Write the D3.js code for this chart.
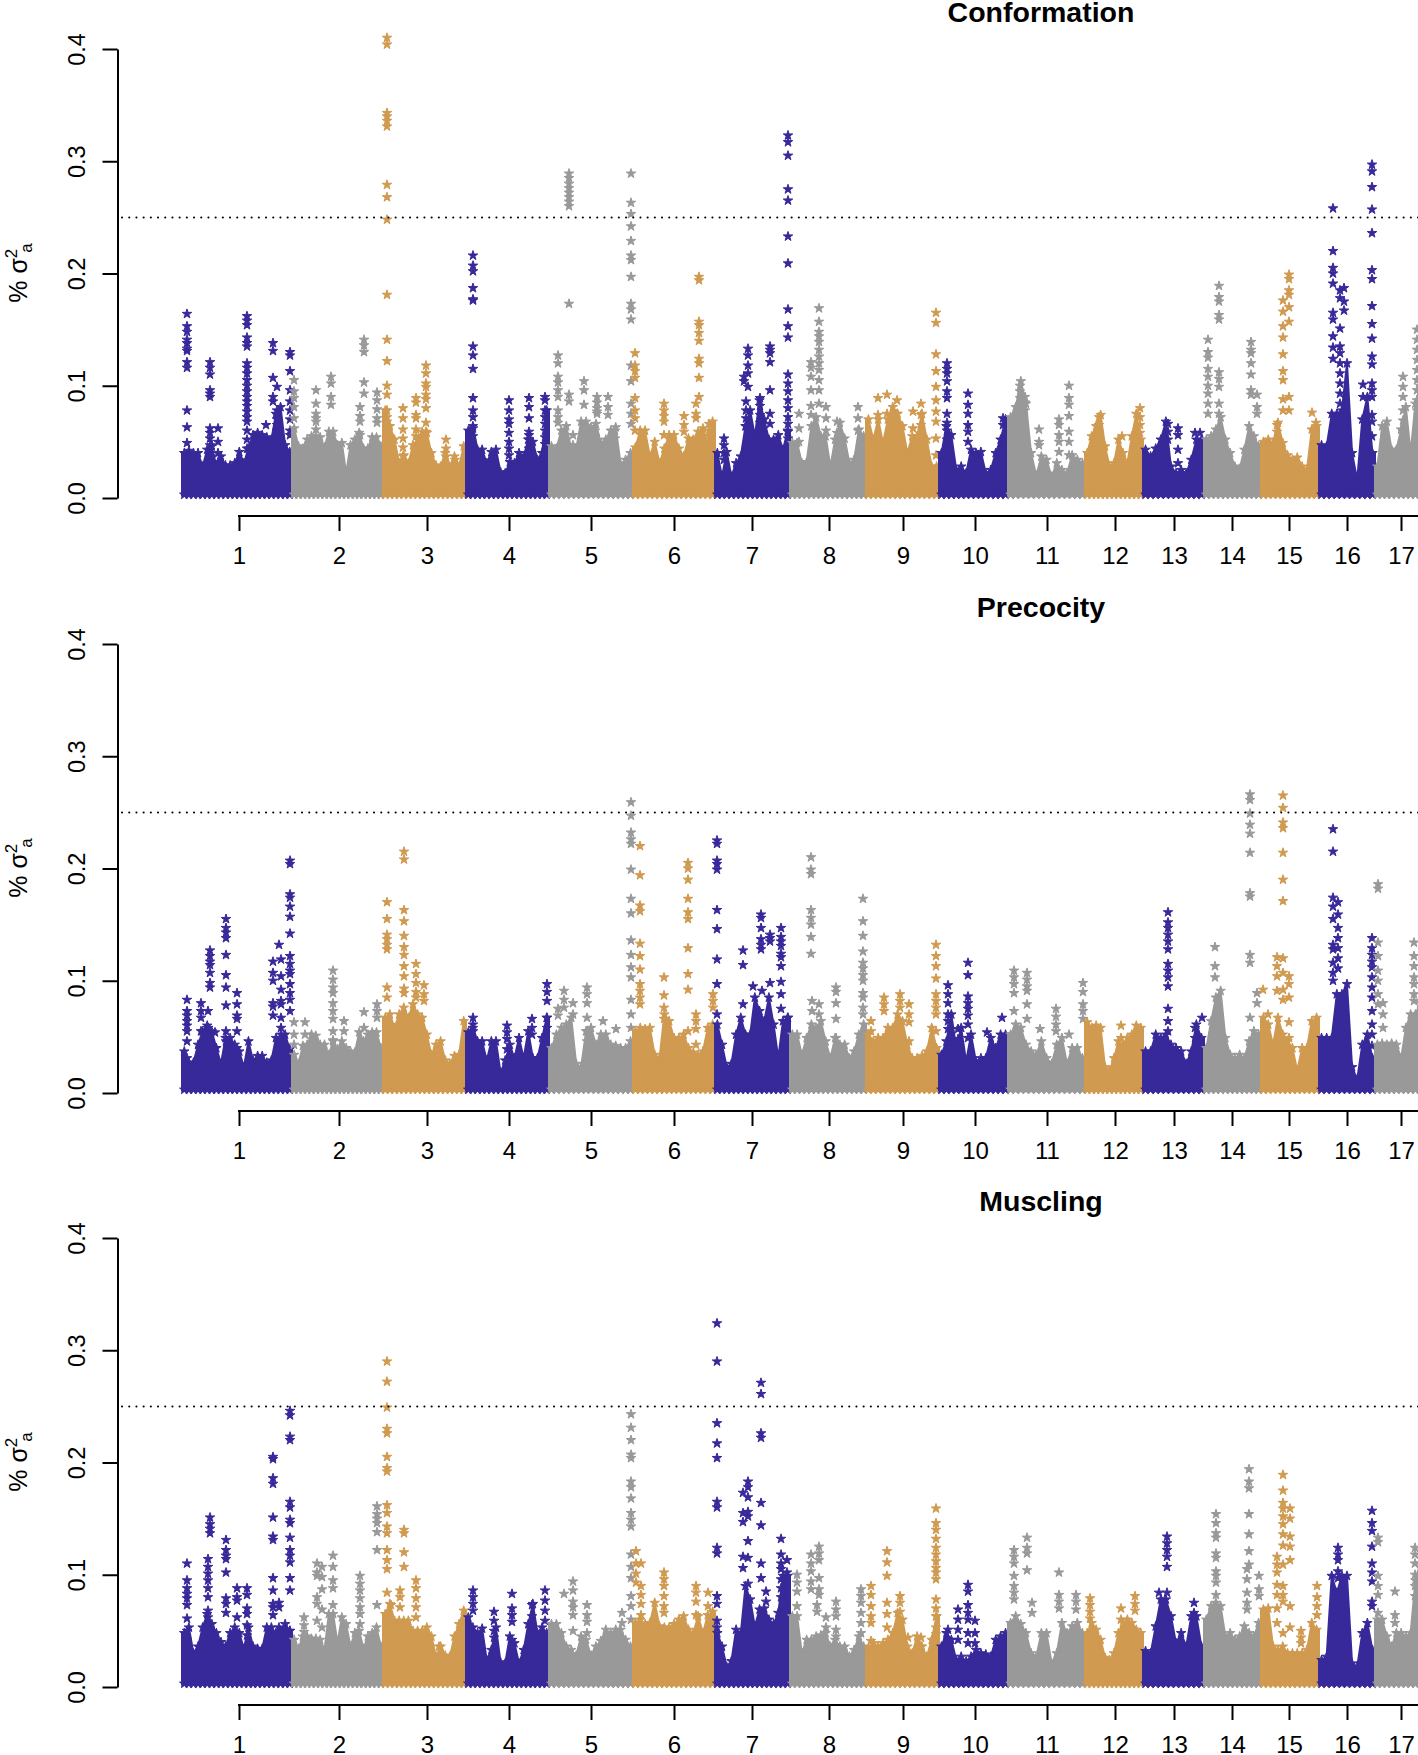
<!DOCTYPE html>
<html>
<head>
<meta charset="utf-8">
<script src="https://cdn.jsdelivr.net/npm/d3@7"></script>
<style>
  html, body { margin: 0; padding: 0; background: #fff; overflow: hidden; }
  text { font-family: "Liberation Sans", sans-serif; fill: #000; }
</style>
</head>
<body>
<div id="chart"></div>
<script>
// chromosome layout, positions in genome units
var chromStarts = [0, 110, 201, 284, 367, 451, 533, 608, 684, 757, 826, 903, 961, 1022, 1079, 1137, 1193, 1250];
var chromTicks = [57, 157, 245, 327, 409, 492, 570, 647, 721, 793, 865, 933, 992, 1050, 1107, 1165, 1219];
var chromLabels = ["1", "2", "3", "4", "5", "6", "7", "8", "9", "10", "11", "12", "13", "14", "15", "16", "17"];
var chromColors = ["#38299a", "#999999", "#d09a50"];
var yTicks = [0, 0.1, 0.2, 0.3, 0.4];
var threshold = 0.25;

// dense part of each chromosome: upper edge of the cloud, one list per chromosome
var conformationMass = [
  [.04,.042,.04,.04,.028,.043,.046,.028,.037,.029,.029,.031,.041,.031,.044,.056,.058,.056,.054,.052,.075,.081,.047,.041],
  [.062,.046,.044,.052,.055,.055,.054,.045,.059,.059,.047,.049,.022,.047,.052,.058,.044,.044,.054,.054,.046],
  [.078,.064,.052,.031,.038,.031,.047,.052,.059,.058,.04,.029,.028,.04,.028,.037,.028,.046],
  [.06,.064,.043,.043,.031,.041,.043,.023,.022,.032,.031,.04,.037,.052,.05,.034,.04,.078],
  [.046,.044,.06,.064,.044,.044,.068,.068,.063,.066,.049,.052,.06,.063,.03,.034,.04],
  [.045,.06,.06,.037,.05,.031,.044,.056,.056,.044,.037,.053,.052,.059,.062,.047,.068],
  [.04,.019,.041,.019,.031,.037,.064,.078,.055,.087,.07,.052,.052,.056,.043,.06],
  [.049,.049,.031,.032,.064,.072,.055,.055,.028,.052,.067,.053,.031,.034,.061,.055],
  [.07,.052,.07,.049,.07,.081,.075,.064,.04,.055,.055,.075,.052,.028,.028],
  [.04,.064,.056,.025,.028,.022,.043,.04,.041,.022,.025,.04,.052,.07],
  [.072,.081,.104,.084,.04,.02,.037,.034,.019,.031,.025,.022,.038,.034,.031],
  [.04,.055,.064,.074,.046,.028,.031,.052,.04,.031,.055,.075,.052],
  [.043,.037,.044,.052,.068,.028,.022,.025,.022,.034,.052,.052],
  [.052,.055,.061,.072,.052,.04,.028,.026,.043,.064,.055,.046],
  [.05,.052,.049,.067,.049,.038,.034,.036,.028,.025,.061,.064],
  [.047,.046,.075,.075,.078,.12,.04,.016,.07,.09,.04],
  [.028,.064,.068,.043,.043,.061,.081,.04,.084,.1,.1,.1]
];
var precocityMass = [
  [.037,.027,.027,.043,.055,.06,.055,.04,.026,.049,.049,.043,.037,.023,.046,.029,.033,.033,.027,.029,.049,.049,.052,.039],
  [.034,.026,.042,.043,.052,.051,.043,.043,.034,.046,.039,.046,.04,.037,.036,.054,.046,.052,.054,.054,.04],
  [.067,.07,.058,.07,.076,.067,.079,.07,.067,.052,.034,.043,.046,.029,.026,.033,.034,.064],
  [.054,.058,.046,.046,.029,.046,.046,.018,.029,.043,.031,.049,.031,.055,.031,.031,.049,.067],
  [.04,.052,.058,.061,.067,.026,.023,.055,.058,.043,.052,.052,.043,.042,.04,.04,.046],
  [.055,.058,.057,.058,.034,.031,.07,.064,.049,.049,.052,.04,.036,.034,.037,.058,.061],
  [.061,.043,.023,.026,.052,.067,.052,.052,.085,.073,.064,.085,.061,.031,.064,.067],
  [.052,.052,.034,.049,.061,.058,.064,.046,.031,.049,.043,.043,.031,.037,.052,.061],
  [.052,.046,.049,.049,.058,.058,.07,.064,.043,.031,.031,.033,.037,.058,.04],
  [.034,.046,.07,.04,.058,.028,.052,.028,.031,.031,.049,.04,.052,.052],
  [.052,.061,.058,.043,.037,.034,.046,.031,.026,.043,.049,.026,.04,.04,.031],
  [.063,.058,.06,.058,.023,.02,.031,.046,.043,.049,.052,.06,.058],
  [.037,.037,.052,.049,.052,.043,.04,.037,.026,.037,.061,.049],
  [.04,.064,.085,.091,.049,.034,.031,.034,.031,.046,.055,.052],
  [.067,.061,.043,.067,.052,.046,.04,.02,.04,.04,.064,.067],
  [.049,.049,.049,.088,.088,.097,.023,.012,.043,.052,.031],
  [.043,.044,.043,.044,.043,.031,.058,.07,.07,.08,.08,.08]
];
var musclingMass = [
  [.048,.053,.03,.036,.053,.065,.056,.048,.04,.036,.048,.053,.048,.034,.053,.036,.034,.034,.053,.053,.048,.05,.056,.05],
  [.042,.034,.045,.045,.043,.043,.042,.033,.065,.065,.039,.062,.056,.036,.048,.05,.034,.045,.048,.053,.036],
  [.065,.074,.059,.059,.059,.059,.05,.05,.05,.053,.045,.027,.036,.028,.027,.045,.056,.068],
  [.062,.053,.048,.052,.024,.033,.053,.022,.021,.045,.039,.021,.033,.056,.074,.048,.053,.048],
  [.056,.056,.048,.036,.033,.028,.045,.042,.028,.036,.041,.051,.048,.051,.051,.042,.036],
  [.057,.06,.056,.057,.075,.054,.053,.053,.056,.06,.063,.051,.048,.063,.048,.064,.067],
  [.048,.036,.018,.023,.051,.048,.09,.078,.054,.069,.07,.06,.056,.066,.099,.099],
  [.063,.063,.03,.042,.042,.045,.046,.048,.036,.042,.036,.036,.027,.033,.045,.036],
  [.035,.039,.036,.039,.042,.048,.066,.06,.036,.03,.045,.036,.027,.042,.063],
  [.036,.048,.042,.024,.027,.023,.027,.033,.03,.029,.027,.042,.045,.048],
  [.057,.063,.056,.048,.03,.027,.048,.048,.021,.03,.057,.048,.054,.057,.048],
  [.048,.057,.051,.042,.026,.024,.03,.048,.057,.06,.057,.051,.048],
  [.032,.03,.054,.078,.078,.063,.039,.048,.036,.063,.063,.036],
  [.06,.072,.075,.072,.045,.048,.042,.045,.054,.048,.045,.057],
  [.069,.07,.036,.033,.036,.03,.03,.03,.03,.033,.057,.051],
  [.024,.027,.099,.084,.099,.099,.021,.018,.048,.057,.033],
  [.06,.06,.045,.036,.048,.048,.045,.048,.095,.11,.11,.11]
];

// columns of separate stars above the cloud: [position, [values]]
var conformationPeaks = [
  [5,[.164,.153,.148,.141,.138,.133,.131,.121,.116,.078,.063,.049]],
  [28,[.121,.116,.11,.096,.093,.09,.062,.058,.053,.047,.043,.037]],
  [36,[.062,.05,.04,.032]],
  [65,[.162,.158,.154,.143,.138,.135,.12,.116,.111,.105,.1,.095,.09,.086,.082,.077,.072,.068,.06,.052,.044]],
  [84,[.065]],
  [91,[.138,.131,.107,.09,.086]],
  [95,[.099,.078,.074,.07,.065,.06]],
  [108,[.13,.127,.113,.096,.086,.078,.07,.06,.056]],
  [112,[.105,.095,.089,.081,.071]],
  [134,[.096,.084,.075,.071,.068,.061]],
  [149,[.108,.102,.09,.083]],
  [178,[.081,.073,.068,.056]],
  [182,[.141,.136,.13,.103,.093]],
  [195,[.094,.087,.079,.071,.067]],
  [205,[.41,.404,.343,.34,.336,.331,.279,.268,.248,.181,.141,.122,.1,.092,.078,.072,.068,.063,.058]],
  [221,[.08,.071,.061,.053,.045,.037]],
  [234,[.089,.085,.074,.071,.061,.055]],
  [244,[.118,.111,.102,.099,.092,.088,.08,.067,.059]],
  [264,[.052,.044,.037]],
  [273,[.034]],
  [291,[.216,.207,.202,.187,.177,.176,.135,.127,.115,.089,.078,.072,.062,.055]],
  [327,[.087,.078,.07,.066,.058,.05,.044,.038]],
  [347,[.089,.081,.071,.059,.056,.052,.044]],
  [363,[.09,.087,.078,.072,.066,.06,.054,.048]],
  [376,[.127,.12,.108,.103,.096,.09,.078,.072,.067]],
  [387,[.289,.285,.28,.276,.272,.268,.264,.26,.173,.092,.086]],
  [391,[.056,.047]],
  [402,[.104,.096,.083]],
  [415,[.09,.085,.08,.077,.075]],
  [413,[.06,.055]],
  [426,[.09,.081,.074]],
  [433,[.06,.053]],
  [449,[.289,.263,.253,.242,.229,.216,.212,.197,.173,.168,.159,.118,.104,.084,.075,.066]],
  [453,[.129,.118,.113,.107,.089,.078,.071,.06]],
  [482,[.084,.078,.073,.068,.056]],
  [502,[.073,.065,.059]],
  [517,[.197,.194,.157,.154,.147,.14,.124,.12,.107,.09]],
  [514,[.084,.075,.071]],
  [527,[.066,.06,.055]],
  [542,[.053,.047,.04,.034]],
  [562,[.108,.104]],
  [564,[.086,.078,.071,.064]],
  [566,[.133,.127,.118,.111,.099]],
  [578,[.089,.082,.074,.067,.059]],
  [588,[.135,.132,.129,.121,.096,.075,.066]],
  [606,[.323,.317,.305,.275,.265,.233,.209,.168,.153,.143,.11,.102,.095,.087,.08,.072,.066,.059,.053]],
  [617,[.075,.062,.05]],
  [629,[.121,.116,.108,.096,.082,.074]],
  [637,[.169,.157,.148,.144,.139,.132,.126,.12,.114,.105,.096,.084]],
  [644,[.081,.071,.06]],
  [655,[.068,.058]],
  [676,[.081,.071,.06]],
  [696,[.089,.074]],
  [705,[.092,.075]],
  [715,[.087,.075]],
  [731,[.077,.062]],
  [739,[.084,.074,.065,.056]],
  [754,[.165,.156,.128,.113,.099,.087,.077,.068,.053,.038]],
  [765,[.12,.115,.111,.104,.095,.089,.075,.067,.06,.052,.045]],
  [786,[.093,.083,.075,.065,.059,.05]],
  [821,[.071,.065]],
  [838,[.1,.095,.089,.083,.077]],
  [843,[.09,.085,.078]],
  [857,[.061,.05,.047]],
  [877,[.07,.065,.056,.05,.041]],
  [887,[.1,.089,.083,.073,.059,.05,.038]],
  [917,[.072,.065,.058]],
  [940,[.055]],
  [958,[.08,.072,.065,.058]],
  [986,[.066,.059,.052]],
  [996,[.062,.056,.043,.031]],
  [1013,[.058]],
  [1018,[.058]],
  [1026,[.141,.13,.125,.115,.108,.1,.093,.084,.075]],
  [1037,[.189,.179,.175,.163,.159,.112,.106,.099,.084,.075]],
  [1069,[.139,.132,.129,.12,.11,.096,.092]],
  [1075,[.092,.081,.075]],
  [1095,[.065,.059,.052]],
  [1101,[.176,.166,.153,.143,.128,.113,.105,.088,.078]],
  [1107,[.199,.195,.185,.181,.17,.157,.09,.078]],
  [1130,[.076]],
  [1134,[.067]],
  [1151,[.258,.22,.205,.2,.191,.165,.159,.144,.134,.124]],
  [1158,[.185,.178,.151,.135,.129,.12,.111,.102,.093,.084]],
  [1162,[.187,.175,.167]],
  [1181,[.101,.09]],
  [1190,[.297,.291,.277,.257,.236,.203,.195,.171,.155,.142,.126,.119,.102,.096,.09,.074,.068,.055,.04]],
  [1221,[.108,.099,.09,.078,.069,.059]],
  [1235,[.15,.141,.132,.123,.114,.105,.096,.087,.078]]
];
var precocityPeaks = [
  [5,[.083,.073,.069,.064,.06,.055,.046,.031]],
  [19,[.08,.073,.067,.055]],
  [26,[.073,.058]],
  [28,[.127,.122,.117,.114,.107,.098,.094]],
  [33,[.054,.04,.027]],
  [44,[.155,.147,.143,.138,.123,.105,.094,.078,.055,.046]],
  [55,[.089,.079,.069,.066,.055,.04]],
  [91,[.117,.107,.1,.08,.077,.069]],
  [97,[.132]],
  [99,[.119,.104,.092,.082,.079,.067,.058,.052]],
  [108,[.207,.204,.177,.174,.166,.157,.142,.122,.115,.109,.106,.097,.089,.083,.073]],
  [112,[.063,.052,.043]],
  [123,[.063,.052]],
  [151,[.109,.101,.094,.089,.08,.073,.066,.055,.047]],
  [162,[.064,.055]],
  [182,[.072,.058]],
  [195,[.079,.073,.067]],
  [205,[.17,.155,.141,.137,.132,.128,.094,.085]],
  [222,[.215,.208,.163,.153,.14,.13,.123,.113,.104,.093,.089]],
  [234,[.115,.106,.098,.09,.085]],
  [242,[.096,.088,.082]],
  [291,[.067,.061,.055]],
  [325,[.06,.054,.048,.039]],
  [350,[.066,.058,.052]],
  [365,[.097,.09,.082,.067,.058]],
  [376,[.075,.069]],
  [382,[.091,.083,.076]],
  [391,[.08,.07]],
  [405,[.094,.088,.08,.067,.055,.046]],
  [421,[.064]],
  [434,[.057]],
  [449,[.259,.247,.232,.226,.222,.199,.173,.16,.136,.123,.112,.103,.083,.07,.058]],
  [458,[.22,.194,.167,.162,.133,.122,.11,.097,.091,.085,.079]],
  [482,[.103,.087,.076,.066]],
  [506,[.205,.2,.19,.173,.161,.155,.129,.106,.092,.055]],
  [514,[.07,.064,.057,.043]],
  [531,[.088,.082,.076]],
  [535,[.225,.222,.207,.204,.199,.163,.146,.119,.097,.07]],
  [561,[.127,.114,.079]],
  [571,[.095]],
  [579,[.159,.156,.147,.137,.132,.128]],
  [580,[.091]],
  [588,[.141,.138,.135,.098]],
  [599,[.147,.139,.135,.131,.124,.121,.113,.099,.088,.075]],
  [606,[.067]],
  [629,[.21,.199,.195,.163,.156,.15,.139,.124]],
  [630,[.082,.073]],
  [637,[.079,.07]],
  [654,[.094,.09,.08,.066,.049]],
  [681,[.173,.153,.14,.126,.116,.111,.105,.1,.089,.085,.076,.07]],
  [689,[.064,.055]],
  [702,[.085,.079,.073]],
  [718,[.088,.082,.076]],
  [727,[.079,.07,.063,.046]],
  [754,[.132,.122,.113,.102,.088,.082,.076,.07,.055]],
  [766,[.096,.088,.08,.07,.064,.057]],
  [776,[.057,.048]],
  [786,[.116,.105,.086,.08,.075,.069,.061,.049]],
  [805,[.054]],
  [820,[.067]],
  [832,[.109,.103,.097,.089,.073]],
  [845,[.107,.101,.095,.091,.079,.066]],
  [858,[.057]],
  [874,[.075,.068,.061,.055]],
  [887,[.052]],
  [901,[.098,.09,.079,.073,.066]],
  [939,[.06,.049]],
  [986,[.161,.152,.147,.141,.135,.128,.115,.109,.103,.095,.075,.064,.055]],
  [1013,[.058,.049]],
  [1020,[.067]],
  [1033,[.13,.113,.103]],
  [1068,[.266,.261,.249,.239,.231,.214,.178,.175,.123,.116,.067]],
  [1075,[.089,.08]],
  [1081,[.092]],
  [1086,[.07]],
  [1095,[.121,.113,.104,.091]],
  [1101,[.265,.254,.241,.236,.214,.19,.171,.12,.107,.092,.083]],
  [1107,[.104,.097,.085,.063,.049]],
  [1151,[.235,.215,.174,.166,.155,.132,.128,.116,.107,.1]],
  [1156,[.17,.159,.147,.138,.129,.12,.111]],
  [1190,[.138,.129,.123,.117,.112,.103,.094,.085,.073,.061,.052,.042]],
  [1196,[.186,.182,.134,.122,.109,.1,.088,.079]],
  [1201,[.08,.07,.058]],
  [1232,[.134,.122,.113,.103,.097,.088,.082]]
];
var musclingPeaks = [
  [5,[.11,.095,.088,.083,.079,.073,.061,.05,.042]],
  [26,[.114,.107,.101,.095,.088,.08,.068,.062,.055]],
  [28,[.151,.145,.141,.137]],
  [44,[.131,.122,.117,.114,.102,.079,.074,.066]],
  [55,[.088,.08,.077,.062,.048]],
  [65,[.088,.082,.07,.065,.055,.046]],
  [91,[.205,.203,.186,.181,.151,.134,.131,.097,.086,.074,.071,.064]],
  [97,[.075,.071,.053]],
  [108,[.246,.242,.223,.22,.165,.16,.149,.146,.133,.122,.117,.111,.097,.086,.05]],
  [122,[.062,.055,.049]],
  [135,[.11,.102,.099,.08,.074,.059]],
  [140,[.107,.098,.087,.069,.053]],
  [151,[.117,.107,.095,.088,.073]],
  [178,[.099,.092,.086,.079,.071,.065,.056]],
  [195,[.161,.154,.15,.146,.138,.122,.073]],
  [205,[.29,.272,.249,.23,.226,.205,.195,.192,.162,.155,.143,.137,.122,.113,.105,.084]],
  [209,[.073]],
  [218,[.086,.08,.071]],
  [222,[.14,.137,.12,.107]],
  [234,[.095,.088,.079,.071,.062]],
  [257,[.036]],
  [291,[.086,.08,.074,.068]],
  [312,[.067,.059,.05,.044]],
  [330,[.083,.07,.064,.058,.042]],
  [350,[.073,.063,.054]],
  [363,[.086,.077,.068,.059]],
  [382,[.083]],
  [391,[.094,.086,.076,.071,.064,.05]],
  [405,[.073,.064,.058,.048]],
  [440,[.066,.057]],
  [449,[.243,.231,.22,.207,.204,.183,.178,.168,.155,.149,.143,.118,.107,.097,.081,.072,.06]],
  [454,[.121,.11,.101,.093]],
  [459,[.11,.09,.082,.074,.064]],
  [482,[.102,.096,.09,.081,.072,.066]],
  [514,[.09,.084,.076,.064]],
  [526,[.084,.072]],
  [535,[.324,.29,.235,.217,.204,.165,.16,.124,.119,.081,.074,.059,.053]],
  [561,[.173,.155,.147,.116,.106]],
  [566,[.183,.178,.169,.156,.152,.13,.115,.092]],
  [579,[.271,.261,.226,.222,.164,.144,.11,.097]],
  [584,[.085,.076]],
  [599,[.132,.118,.11,.105,.096,.088,.08]],
  [605,[.113,.102]],
  [615,[.1,.093,.085,.072]],
  [629,[.118,.11,.103,.094,.087]],
  [635,[.073,.067]],
  [637,[.125,.119,.113,.097,.087,.082]],
  [644,[.062,.053]],
  [654,[.076,.069,.063,.051,.045]],
  [679,[.087,.081,.075,.066,.057,.048]],
  [689,[.09,.082,.072,.063,.057,.041]],
  [705,[.121,.111,.099,.075,.065,.053]],
  [718,[.081,.075,.067]],
  [726,[.044]],
  [739,[.044,.036]],
  [754,[.159,.146,.14,.132,.124,.118,.112,.106,.102,.096,.078,.07,.063,.053,.047]],
  [766,[.051,.042]],
  [776,[.069,.06,.051,.042]],
  [786,[.091,.085,.073,.066,.06,.048,.039]],
  [793,[.059,.048,.039]],
  [832,[.122,.116,.11,.099,.09,.084,.078]],
  [845,[.133,.124,.119,.104]],
  [850,[.075,.066]],
  [877,[.102,.082,.076,.07]],
  [894,[.082,.076,.069]],
  [908,[.079,.073,.067,.061]],
  [939,[.07,.06]],
  [953,[.081,.074,.068]],
  [977,[.084]],
  [985,[.134,.128,.122,.116,.107,.084]],
  [1012,[.075,.066,.059]],
  [1034,[.154,.146,.137,.133,.119,.115,.103,.099,.093,.082]],
  [1065,[.105,.096,.084,.075,.069]],
  [1067,[.194,.183,.177,.154,.136,.121,.109]],
  [1077,[.099,.087,.081]],
  [1095,[.116,.109,.102,.091,.082,.07,.057]],
  [1101,[.189,.175,.164,.159,.152,.145,.136,.126,.109,.09,.082,.076,.048]],
  [1108,[.159,.15,.134,.125,.113,.072,.053]],
  [1119,[.05,.044,.039]],
  [1135,[.09,.08,.072,.064]],
  [1156,[.124,.118,.113,.103,.097]],
  [1190,[.157,.146,.139,.125,.11,.102,.094,.076,.072]],
  [1196,[.133,.129,.099,.09,.082,.066]],
  [1213,[.085,.064,.057]],
  [1233,[.124,.118,.11,.1,.09,.081]]
];

var panels = [
  {title: "Conformation", zero: 498, mass: conformationMass, peaks: conformationPeaks},
  {title: "Precocity", zero: 1093, mass: precocityMass, peaks: precocityPeaks},
  {title: "Muscling", zero: 1687, mass: musclingMass, peaks: musclingPeaks}
];

var width = 1418, height = 1755;
var plotLeft = 182, panelHeight = 449, starSize = 28;

var svg = d3.select("#chart").append("svg")
  .attr("width", width)
  .attr("height", height)
  .style("display", "block");

var x = d3.scaleLinear().domain([0, 1236]).range([plotLeft, width]);
var star = d3.symbol().type(d3.symbolStar).size(starSize);

function chrom_of(pos) {
  return d3.bisectRight(chromStarts, pos) - 1;
}

function chrom_color(i) {
  return chromColors[i % 3];
}

function mass_points(values, i) {
  var start = chromStarts[i], len = chromStarts[i + 1] - start;
  return values.map(function(v, k) {
    return {pos: start + (k + 0.5) / values.length * len, value: v};
  });
}

function draw_panel(panel) {
  var y = d3.scaleLinear().domain([0, 0.4]).range([panel.zero, panel.zero - panelHeight]);
  var g = svg.append("g");

  var area = d3.area()
    .x(function(d) { return x(d.pos); })
    .y0(y(0.002))
    .y1(function(d) { return y(d.value); });

  var peakPoints = [];
  panel.peaks.forEach(function(p) {
    p[1].forEach(function(v) { peakPoints.push({pos: p[0], value: v}); });
  });

  panel.mass.forEach(function(values, i) {
    var pts = mass_points(values, i);
    var color = chrom_color(i);
    var full = [{pos: chromStarts[i], value: values[0]}].concat(pts, [{pos: chromStarts[i + 1], value: values[values.length - 1]}]);

    g.append("path")
      .attr("d", area(full))
      .attr("fill", color)
      .attr("stroke", color)
      .attr("stroke-width", 2)
      .attr("stroke-linejoin", "round");

    var stars = g.append("g")
      .attr("fill", color)
      .attr("stroke", color)
      .attr("stroke-width", 1)
      .attr("stroke-linejoin", "round");
    stars.selectAll("path.top").data(pts).enter().append("path")
      .attr("class", "top")
      .attr("d", star)
      .attr("transform", function(d) { return "translate(" + x(d.pos) + "," + y(d.value) + ")"; });
    stars.selectAll("path.low").data(pts).enter().append("path")
      .attr("class", "low")
      .attr("d", star)
      .attr("transform", function(d) { return "translate(" + x(d.pos) + "," + y(0.003) + ")"; });

    stars.selectAll("path.peak")
      .data(peakPoints.filter(function(d) { return chrom_of(d.pos) === i; }))
      .enter().append("path")
      .attr("class", "peak")
      .attr("d", star)
      .attr("transform", function(d) { return "translate(" + x(d.pos) + "," + y(d.value) + ")"; });
  });

  // threshold
  g.append("line")
    .attr("x1", 122).attr("x2", width)
    .attr("y1", y(threshold)).attr("y2", y(threshold))
    .attr("stroke", "#000")
    .attr("stroke-width", 2)
    .attr("stroke-linecap", "round")
    .attr("stroke-dasharray", "0.1 7.1");

  // y axis
  var yAxis = g.append("g")
    .attr("transform", "translate(117.5,0)")
    .call(d3.axisLeft(y).tickValues(yTicks).tickFormat(d3.format(".1f")).tickSize(15).tickSizeOuter(0));
  yAxis.selectAll("path, line").attr("stroke", "#000").attr("stroke-width", 2);
  yAxis.selectAll("text")
    .attr("transform", "translate(-41,0) rotate(-90) translate(41,0)")
    .attr("x", -41).attr("dy", "0.35em").attr("y", 0)
    .attr("text-anchor", "middle")
    .style("font-size", "23.5px")
    .style("font-family", '"Liberation Sans", sans-serif');

  // x axis with one tick per chromosome
  var xAxis = g.append("g")
    .attr("transform", "translate(0," + (panel.zero + 18) + ")")
    .call(d3.axisBottom(x).tickValues(chromTicks)
      .tickFormat(function(d, i) { return chromLabels[i]; })
      .tickSize(15).tickSizeOuter(0));
  xAxis.select(".domain").remove();
  xAxis.selectAll("line").attr("stroke", "#000").attr("stroke-width", 2);
  xAxis.append("line")
    .attr("x1", x(chromTicks[0]) - 1).attr("x2", width)
    .attr("stroke", "#000").attr("stroke-width", 2);
  xAxis.selectAll("text")
    .attr("y", 31).attr("dy", "0.71em")
    .style("font-size", "24px")
    .style("font-family", '"Liberation Sans", sans-serif');

  // y label: % sigma squared, subscript a
  var label = g.append("text")
    .attr("transform", "translate(27," + (panel.zero - 225) + ") rotate(-90)")
    .attr("text-anchor", "middle")
    .style("font-size", "25px");
  label.append("tspan").text("% σ");
  label.append("tspan").text("2").attr("dy", -10).style("font-size", "17px");
  label.append("tspan").text("a").attr("dx", -4).attr("dy", 15).style("font-size", "17px");

  g.append("text")
    .attr("x", 1041).attr("y", panel.zero - 476)
    .attr("text-anchor", "middle")
    .style("font-size", "28.5px")
    .style("font-weight", "bold")
    .text(panel.title);
}

panels.forEach(draw_panel);
</script>
</body>
</html>
